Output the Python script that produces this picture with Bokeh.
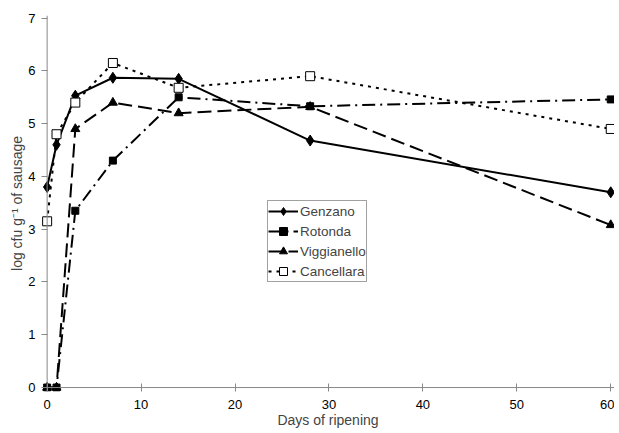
from bokeh.plotting import figure
from bokeh.models import Legend, LegendItem, FixedTicker, Range1d, Span
from bokeh.embed import file_html
from bokeh.resources import INLINE

days = [0, 1, 3, 7, 14, 28, 60]
genzano = [3.8, 4.6, 5.53, 5.87, 5.85, 4.68, 3.7]
rotonda = [0.0, 0.0, 3.35, 4.3, 5.5, 5.33, 5.46]
viggianello = [0.0, 0.0, 4.9, 5.4, 5.2, 5.32, 3.08]
cancellara = [3.15, 4.8, 5.4, 6.15, 5.68, 5.9, 4.9]
x_ticks = [0, 10, 20, 30, 40, 50, 60]
y_ticks = [0, 1, 2, 3, 4, 5, 6, 7]

FONT = "Liberation Sans"

p = figure(output_backend="svg", toolbar_location=None,
           frame_width=573, frame_height=376,
           x_range=Range1d(-0.6, 60.4), y_range=Range1d(-0.075, 7.05),
           min_border_left=41, min_border_right=0, min_border_top=15, min_border_bottom=35)
p.outline_line_color = None
p.grid.visible = False
p.background_fill_color = "white"

p.add_layout(Span(location=0, dimension="height", line_color="#888888", line_width=1))
p.add_layout(Span(location=0, dimension="width", line_color="#888888", line_width=1))

r1 = p.line(days, genzano, line_color="black", line_width=2)
m1 = p.scatter(days, genzano, marker="diamond", size=11, color="black")
r2 = p.line(days, rotonda, line_color="black", line_width=2, line_dash="13 5 2 5")
m2 = p.scatter(days, rotonda, marker="square", size=7, color="black")
r3 = p.line(days, viggianello, line_color="black", line_width=2, line_dash="14 6")
m3 = p.scatter(days, viggianello, marker="triangle", size=9, color="black")
r4 = p.line(days, cancellara, line_color="black", line_width=2, line_dash="3 5")
m4 = p.scatter(days, cancellara, marker="square", size=9, fill_color="white", line_color="black", line_width=1)

legend = Legend(items=[
    LegendItem(label="Genzano", renderers=[r1, m1]),
    LegendItem(label="Rotonda", renderers=[r2, m2]),
    LegendItem(label="Viggianello", renderers=[r3, m3]),
    LegendItem(label="Cancellara", renderers=[r4, m4]),
], location=(226, 109))
legend.border_line_color = "#444444"
legend.border_line_width = 1
legend.background_fill_alpha = 1
legend.label_text_font = FONT
legend.label_text_font_size = "13.5px"
legend.glyph_width = 30
legend.glyph_height = 20
legend.label_height = 20
legend.spacing = 0
legend.padding = 0
legend.margin = 0
legend.label_standoff = 2
p.add_layout(legend, "center")

for ax in (p.xaxis, p.yaxis):
    ax.axis_line_color = None
    ax.major_tick_line_color = "#888888"
    ax.minor_tick_line_color = None
    ax.major_label_text_font = FONT
    ax.major_label_text_font_size = "13px"
    ax.major_label_text_color = "black"
    ax.axis_label_text_font = FONT
    ax.axis_label_text_font_size = "14px"
    ax.axis_label_text_font_style = "normal"

p.xaxis.ticker = FixedTicker(ticks=x_ticks)
p.yaxis.ticker = FixedTicker(ticks=y_ticks)
p.xaxis.major_tick_in = 8
p.xaxis.major_tick_out = 0
p.yaxis.major_tick_in = 6
p.yaxis.major_tick_out = 0
p.xaxis.major_label_standoff = 8
p.yaxis.major_label_standoff = 6
p.xaxis.axis_label = "Days of ripening"
p.yaxis.axis_label = "log cfu g\u207b\u00b9 of sausage"
p.xaxis.axis_label_standoff = 0
p.yaxis.axis_label_standoff = 0

open("out.html", "w").write(file_html(p, INLINE))
